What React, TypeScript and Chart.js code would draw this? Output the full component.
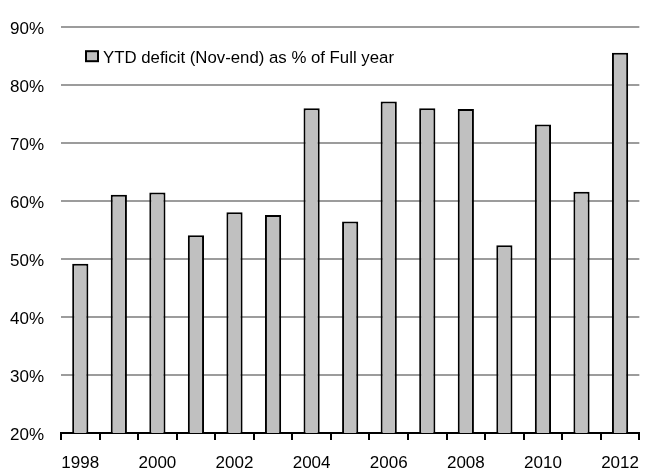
import React, { useEffect, useRef } from "react";
import { Chart, registerables } from "chart.js";

Chart.register(...registerables);

// Years on the category axis (every other one is labelled)
const years = [
  "1998", "1999", "2000", "2001", "2002", "2003", "2004", "2005",
  "2006", "2007", "2008", "2009", "2010", "2011", "2012",
];

// Year-to-date deficit at end of November, as % of the full-year deficit
const deficitShare = [
  49.2, 61.1, 61.5, 54.1, 58.1, 57.6, 76.0, 56.5,
  77.2, 76.0, 75.9, 52.4, 73.2, 61.6, 85.6,
];

const seriesLabel = "YTD deficit (Nov-end) as % of Full year";

const yMin = 20;
const yMax = 90;
const yStep = 10;

const FONT_FAMILY = "'Liberation Sans', Arial, Helvetica, sans-serif";
const BAR_FILL = "#c0c0c0";
const GRID_GREY = "#9c9c9c";

// Legend drawn inside the plot, top-left
const insideLegend = {
  id: "insideLegend",
  afterDraw(chart: any) {
    const { ctx, chartArea } = chart;
    const label = chart.data.datasets[0].label as string;
    const bx = chartArea.left + 25;
    const by = chartArea.top + 24;
    ctx.save();
    ctx.fillStyle = BAR_FILL;
    ctx.fillRect(bx, by, 12, 10);
    ctx.strokeStyle = "#000";
    ctx.lineWidth = 2;
    ctx.strokeRect(bx, by, 12, 10);
    ctx.fillStyle = "#000";
    ctx.font = `16.8px ${FONT_FAMILY}`;
    ctx.textAlign = "left";
    ctx.textBaseline = "middle";
    ctx.fillText(label, bx + 17, by + 7);
    ctx.restore();
  },
};

export default function App() {
  const canvasRef = useRef<HTMLCanvasElement | null>(null);

  useEffect(() => {
    const canvas = canvasRef.current;
    if (!canvas) return;

    const chart = new Chart(canvas, {
      type: "bar",
      data: {
        labels: years,
        datasets: [
          {
            label: seriesLabel,
            data: deficitShare,
            backgroundColor: BAR_FILL,
            borderColor: "#000",
            borderWidth: 2,
            barPercentage: 0.42,
            categoryPercentage: 1,
          },
        ],
      },
      plugins: [insideLegend],
      options: {
        animation: false,
        responsive: false,
        devicePixelRatio: 1,
        layout: { padding: { top: 22, right: 1, left: 0, bottom: 0 } },
        plugins: {
          legend: { display: false },
          tooltip: { enabled: false },
        },
        scales: {
          x: {
            offset: true,
            grid: {
              display: true,
              offset: true,
              drawOnChartArea: false,
              drawTicks: true,
              tickLength: 7,
              color: "#000",
              lineWidth: 2,
            },
            border: { display: true, color: "#000", width: 2 },
            ticks: {
              autoSkip: false,
              maxRotation: 0,
              minRotation: 0,
              padding: 13,
              color: "#000",
              font: { family: FONT_FAMILY, size: 17 },
              callback: (_v: any, i: number) => (i % 2 === 0 ? years[i] : ""),
            },
            afterFit(scale: any) {
              scale.height = 36;
            },
          },
          y: {
            min: yMin,
            max: yMax,
            grid: {
              color: GRID_GREY,
              lineWidth: 2,
              drawTicks: false,
            },
            border: { display: false },
            ticks: {
              stepSize: yStep,
              padding: 17,
              labelOffset: 2.5,
              color: "#000",
              font: { family: FONT_FAMILY, size: 17 },
              callback: (v: any) => `${v}%`,
            },
            afterFit(scale: any) {
              scale.width = 61;
            },
          },
        },
      },
    });

    return () => chart.destroy();
  }, []);

  return (
    <div
      style={{
        position: "fixed",
        left: 0,
        top: 0,
        width: 652,
        height: 469,
        background: "#fff",
      }}
    >
      <canvas ref={canvasRef} width={652} height={469} />
    </div>
  );
}
